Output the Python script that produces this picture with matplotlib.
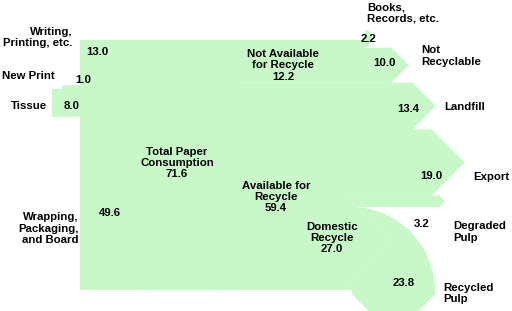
import matplotlib
matplotlib.use('Agg')
import matplotlib.pyplot as plt
from matplotlib.sankey import Sankey

plt.rcParams['font.family'] = ['Liberation Sans', 'DejaVu Sans']

# paper flows
uses = ['Writing,\nPrinting, etc.', 'New Print', 'Tissue', 'Wrapping,\nPackaging,\nand Board']
use_vals = [13.0, 1.0, 8.0, 49.6]
total_name = 'Total Paper\nConsumption'
total_val = 71.6
split_names = ['Not Available\nfor Recycle', 'Available for\nRecycle']
split_vals = [12.2, 59.4]
not_avail_names = ['Books,\nRecords, etc.', 'Not\nRecyclable']
not_avail_vals = [2.2, 10.0]
avail_names = ['Landfill', 'Export', 'Domestic\nRecycle']
avail_vals = [13.4, 19.0, 27.0]
domestic_names = ['Degraded\nPulp', 'Recycled\nPulp']
domestic_vals = [3.2, 23.8]

green = '#c8f7c8'
fig = plt.figure(figsize=(5.12, 3.11), dpi=100)
ax = fig.add_axes([0, 0, 1, 1])

px = 3.49  # pixels per unit of flow
kw = dict(facecolor=green, edgecolor='none', linewidth=0)
sk = Sankey(ax=ax, scale=px, unit=None, gap=3.5, radius=1.5, shoulder=0, head_angle=180)

# total consumption: flat tails on the left
sk.add(flows=use_vals + [-v for v in split_vals], orientations=[0] * 6,
       pathlengths=[-14.5, -6.5, 31.5, 42, 3.5, 3.5], trunklength=119, **kw)
# pointed heads from here on
sk.pitch = 1.0
sk.shoulder = 1.5
sk.add(flows=[split_vals[0]] + [-v for v in not_avail_vals], orientations=[0, 1, 0],
       pathlengths=[0, 5, 18.8], trunklength=150.8, prior=0, connect=(4, 0), **kw)
sk.add(flows=[split_vals[1]] + [-v for v in avail_vals], orientations=[0, 0, 0, 0],
       pathlengths=[0, 58, 22.5, -83.5], trunklength=226.2, prior=0, connect=(5, 0), **kw)
sk.add(flows=[avail_vals[2]] + [-v for v in domestic_vals], orientations=[0, 0, -1],
       pathlengths=[0, 3, 3], trunklength=11, prior=2, connect=(3, 0), **kw)
sk.finish()

ax.set_xlim(-178, 334)
ax.set_ylim(-146, 165)
ax.axis('off')

fs = 8.2
def put(x, y, s, ha='center'):
    ax.text(x, y, s, ha=ha, va='center', fontsize=fs, fontweight='bold', linespacing=1.15)

# names
name_pos = [(-106, 127.5), (-123, 89), (-131, 59), (-99.5, -63.5)]
for (x, y), s in zip(name_pos, uses):
    put(x, y, s, ha='right')
put(-1, 2, f'{total_name}\n{total_val:.1f}')
put(105, 99.7, f'{split_names[0]}\n{split_vals[0]:.1f}')
put(98, -32, f'{split_names[1]}\n{split_vals[1]:.1f}')
put(154, -73, f'{avail_names[2]}\n{avail_vals[2]:.1f}')
put(189, 152, not_avail_names[0], ha='left')
put(243.7, 109, not_avail_names[1], ha='left')
put(266, 58.3, avail_names[0], ha='left')
put(295.3, -11.7, avail_names[1], ha='left')
put(275.7, -67, domestic_names[0], ha='left')
put(265.3, -128.3, domestic_names[1], ha='left')

# values
use_val_pos = [(-80.3, 113.3), (-95, 85), (-106, 59), (-68, -47.7)]
for (x, y), v in zip(use_val_pos, use_vals):
    put(x, y, f'{v:.1f}')
put(190.7, 125.7, f'{not_avail_vals[0]:.1f}')
put(206, 102, f'{not_avail_vals[1]:.1f}')
put(230.7, 55.7, f'{avail_vals[0]:.1f}')
put(253, -11, f'{avail_vals[1]:.1f}')
put(243.7, -59, f'{domestic_vals[0]:.1f}')
put(225.3, -118.3, f'{domestic_vals[1]:.1f}')

fig.savefig('out.png', dpi=100)
